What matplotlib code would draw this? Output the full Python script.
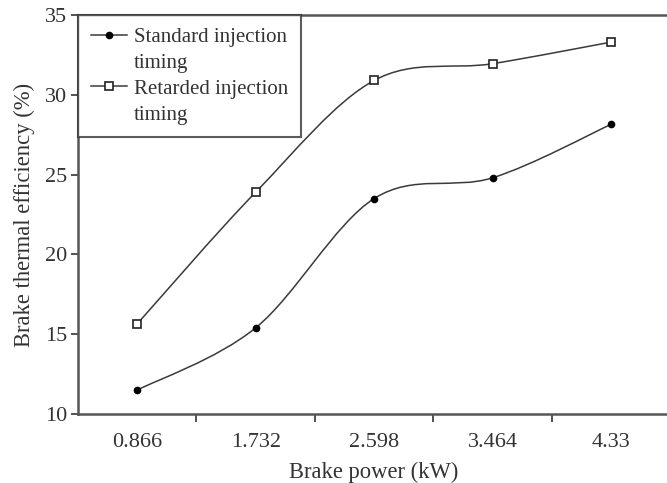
import numpy as np
import matplotlib
matplotlib.use("Agg")
import matplotlib.pyplot as plt
from matplotlib.path import Path
from matplotlib.patches import PathPatch
from matplotlib.lines import Line2D

categories = ["0.866", "1.732", "2.598", "3.464", "4.33"]
standard = [11.5, 15.4, 23.5, 24.8, 28.15]
retarded = [15.65, 23.9, 30.9, 31.95, 33.3]
yticks = [10, 15, 20, 25, 30, 35]

plt.rcParams['font.family'] = ['Liberation Serif', 'DejaVu Serif']

fig = plt.figure(figsize=(6.67, 4.83), dpi=100)
ax = fig.add_axes([78/667, 1-414/483, 1-78/667 + 0.005, (414-15)/483])

line_col = '#3a3a3a'

def smooth_path(xs, ys):
    pts = np.column_stack([xs, ys]).astype(float)
    n = len(pts)
    verts = [pts[0]]
    codes = [Path.MOVETO]
    for i in range(n - 1):
        p0 = pts[i - 1] if i > 0 else pts[i]
        p1 = pts[i]
        p2 = pts[i + 1]
        p3 = pts[i + 2] if i + 2 < n else pts[i + 1]
        c1 = p1 + (p2 - p0) / 6.0
        c2 = p2 - (p3 - p1) / 6.0
        verts += [c1, c2, p2]
        codes += [Path.CURVE4] * 3
    return Path(verts, codes)

x = np.arange(len(categories))
for ys in (standard, retarded):
    ax.add_patch(PathPatch(smooth_path(x, ys), facecolor='none',
                           edgecolor=line_col, lw=1.1, zorder=2))

ax.plot(x, standard, linestyle='none', marker='o', ms=4.5, color='black', zorder=3)
ax.plot(x, retarded, linestyle='none', marker='s', ms=6, mfc='white',
        mec='#222222', mew=1.2, zorder=3)

ax.set_xlim(-0.5, 4.5)
ax.set_ylim(10, 35)
ax.set_yticks(yticks)
ax.set_xticks(np.arange(0.5, 4.5, 1.0))
ax.set_xticklabels([])
ax.set_xticks(x, minor=True)
ax.set_xticklabels(categories, minor=True)
ax.tick_params(axis='x', which='minor', length=0, pad=14, labelsize=16, colors='#333333')
ax.tick_params(axis='x', which='major', length=6, width=1.3, direction='out', color='#444444')
ax.tick_params(axis='y', length=5, width=1.3, direction='out', labelsize=16, colors='#333333', color='#444444', pad=3)

for s in ('left', 'bottom', 'top'):
    ax.spines[s].set_linewidth(1.8)
    ax.spines[s].set_color('#555555')
ax.spines['right'].set_visible(False)

ax.set_xlabel("Brake power (kW)", fontsize=16.3, color='#333333', labelpad=7)
ax.set_ylabel("Brake thermal efficiency (%)", fontsize=16.3, color='#333333', labelpad=7)

blank = Line2D([], [], color='none')
handles = [
    Line2D([], [], color=line_col, lw=1.1, marker='o', ms=4.5, mfc='black', mec='black'),
    blank,
    Line2D([], [], color=line_col, lw=1.1, marker='s', ms=6, mfc='white', mec='#222222', mew=1.2),
    blank,
]
leg = ax.legend(handles, ["Standard injection", "timing", "Retarded injection", "timing"],
                loc='upper left', bbox_to_anchor=(0, 1), borderaxespad=0,
                fontsize=15, frameon=True, fancybox=False, handlelength=1.75,
                handletextpad=0.35, labelspacing=0.3, borderpad=0.6)
leg.get_frame().set_edgecolor('#333333')
leg.get_frame().set_linewidth(1.5)
for t in leg.get_texts():
    t.set_color('#333333')

fig.savefig("out.png", dpi=100)
